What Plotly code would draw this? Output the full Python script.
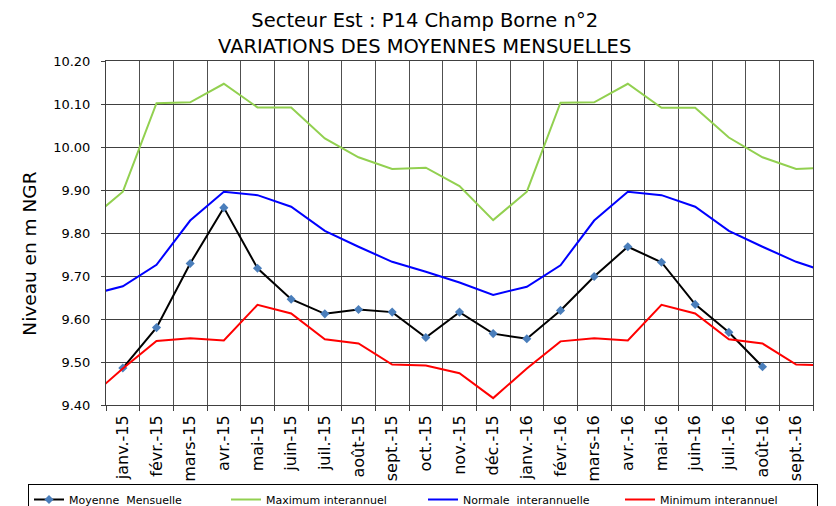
import plotly.graph_objects as go

# Categories (first and last are hidden outside the visible range; lines run to the plot edges)
months = ["déc.-14",
          "janv.-15", "févr.-15", "mars-15", "avr.-15", "mai-15", "juin-15",
          "juil.-15", "août-15", "sept.-15", "oct.-15", "nov.-15", "déc.-15",
          "janv.-16", "févr.-16", "mars-16", "avr.-16", "mai-16", "juin-16",
          "juil.-16", "août-16", "sept.-16",
          "oct.-16"]

moyenne = [None,
           9.486, 9.580, 9.729, 9.859, 9.718, 9.646,
           9.612, 9.622, 9.616, 9.557, 9.616, 9.566,
           9.554, 9.620, 9.699, 9.768, 9.732, 9.634,
           9.569, 9.489, None,
           None]

maximum = [9.830,
           9.896, 10.102, 10.104, 10.147, 10.092, 10.092,
           10.020, 9.976, 9.949, 9.952, 9.909, 9.830,
           9.896, 10.103, 10.104, 10.147, 10.091, 10.091,
           10.022, 9.976, 9.949,
           9.952]

normale = [9.656,
           9.676, 9.726, 9.829, 9.896, 9.888, 9.861,
           9.805, 9.768, 9.733, 9.710, 9.685, 9.656,
           9.675, 9.725, 9.829, 9.896, 9.888, 9.861,
           9.805, 9.768, 9.733,
           9.707]

minimum = [9.416,
           9.485, 9.549, 9.555, 9.550, 9.633, 9.613,
           9.553, 9.543, 9.494, 9.492, 9.474, 9.416,
           9.485, 9.548, 9.555, 9.550, 9.633, 9.613,
           9.553, 9.543, 9.494,
           9.492]

FONT = "DejaVu Sans, Verdana, sans-serif"

fig = go.Figure()
fig.add_trace(go.Scatter(x=months, y=moyenne, name="Moyenne  Mensuelle",
                         mode="lines+markers",
                         line=dict(color="black", width=2),
                         marker=dict(symbol="diamond", size=7, color="#4a7ebb"),
                         connectgaps=False))
fig.add_trace(go.Scatter(x=months, y=maximum, name="Maximum interannuel",
                         mode="lines", line=dict(color="#92d050", width=2)))
fig.add_trace(go.Scatter(x=months, y=normale, name="Normale  interannuelle",
                         mode="lines", line=dict(color="#0000ff", width=2)))
fig.add_trace(go.Scatter(x=months, y=minimum, name="Minimum interannuel",
                         mode="lines", line=dict(color="#ff0000", width=2)))

fig.update_layout(
    width=836, height=506,
    margin=dict(l=106, r=23, t=61, b=101, autoexpand=False),
    paper_bgcolor="white", plot_bgcolor="white",
    font=dict(family=FONT, color="black"),
    title=dict(text="Secteur Est : P14 Champ Borne n°2<br>VARIATIONS DES MOYENNES MENSUELLES",
               x=0.508, xref="container", xanchor="center",
               y=0.946, yref="container", yanchor="top",
               font=dict(size=19.5, family=FONT, color="black")),
    showlegend=True,
    legend=dict(orientation="h", xref="paper", yref="paper",
                x=(28 - 106) / 707, y=(405 - 484) / 344,
                xanchor="left", yanchor="top",
                bordercolor="black", borderwidth=1, bgcolor="white",
                font=dict(size=11, family=FONT, color="black"),
                entrywidth=152, entrywidthmode="pixels"),
    annotations=[dict(text="Niveau en m NGR", textangle=-90,
                      xref="paper", yref="paper", x=-0.1075, y=0.44,
                      xanchor="center", yanchor="middle", showarrow=False,
                      font=dict(size=18.5, family=FONT, color="black"))],
)

fig.update_xaxes(type="category", range=[0.5, 21.5],
                 tickson="boundaries", ticks="outside", ticklen=5,
                 tickcolor="#404040", tickangle=-90,
                 ticklabelstandoff=3,
                 tickfont=dict(size=16, family=FONT, color="black"),
                 showgrid=True, gridcolor="#505050", gridwidth=1.3,
                 showline=True, linecolor="#404040", mirror=True,
                 zeroline=False)
fig.update_yaxes(range=[9.40, 10.20], dtick=0.1, tick0=9.4, tickformat=".2f",
                 ticks="outside", ticklen=4, tickcolor="#404040",
                 ticklabelstandoff=8,
                 tickfont=dict(size=13, family=FONT, color="black"),
                 showgrid=True, gridcolor="#404040", gridwidth=1,
                 showline=True, linecolor="#404040", mirror=True,
                 zeroline=False)

fig.write_html("out.html", config={"displayModeBar": False},
               post_script="document.body.style.margin='0';")
